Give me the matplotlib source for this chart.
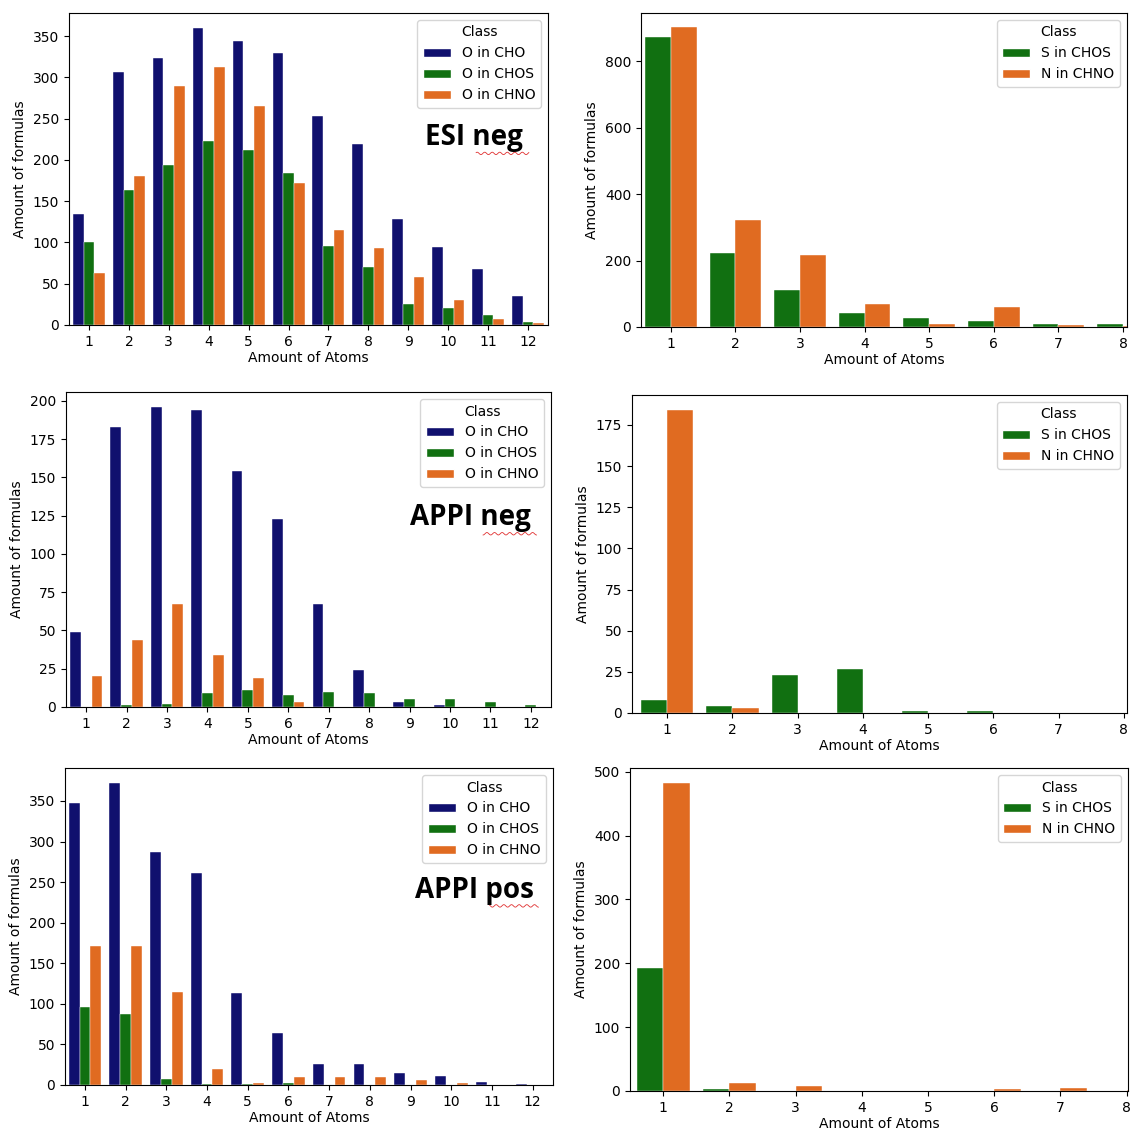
import numpy as np
import matplotlib
matplotlib.use("Agg")
import matplotlib.pyplot as plt
from matplotlib.patches import Patch

# ---------------- data ----------------
atoms_o = ["1", "2", "3", "4", "5", "6", "7", "8", "9", "10", "11", "12"]
atoms_sn = ["1", "2", "3", "4", "5", "6", "7", "8"]

esi_o_cho = [135, 307, 324, 360, 344, 329, 253, 219, 128, 95, 68, 35]
esi_o_chos = [101, 163, 194, 223, 212, 184, 96, 70, 25, 21, 12, 4]
esi_o_chno = [63, 180, 290, 312, 265, 172, 115, 93, 58, 30, 7, 3]
esi_s_chos = [872, 222, 112, 42, 27, 17, 10, 8]
esi_n_chno = [904, 322, 217, 68, 8, 60, 5, 3]

appineg_o_cho = [49, 183, 196, 194, 154, 123, 67, 24, 3, 1, 0, 0]
appineg_o_chos = [0, 1, 2, 9, 11, 8, 10, 9, 5, 5, 3, 1]
appineg_o_chno = [20, 44, 67, 34, 19, 3, 0, 0, 0, 0, 0, 0]
appineg_s_chos = [8, 4, 23, 27, 1, 1, 0, 0]
appineg_n_chno = [184, 3, 0, 0, 0, 0, 0, 0]

appipos_o_cho = [348, 372, 287, 261, 113, 64, 26, 26, 15, 11, 4, 1]
appipos_o_chos = [96, 87, 8, 1, 1, 3, 0, 0, 0, 0, 0, 0]
appipos_o_chno = [171, 171, 114, 20, 3, 10, 10, 10, 6, 3, 0, 0]
appipos_s_chos = [192, 3, 0, 0, 0, 0, 0, 0]
appipos_n_chno = [482, 12, 8, 0, 0, 3, 5, 2]

labels_o = ["O in CHO", "O in CHOS", "O in CHNO"]
labels_sn = ["S in CHOS", "N in CHNO"]
panel_titles = ["ESI neg", "APPI neg", "APPI pos"]

NAVY = "#10106e"
GREEN = "#117011"
ORANGE = "#e06b21"

W, H = 1133, 1135
fig = plt.figure(figsize=(W / 100, H / 100), dpi=100)
plt.rcParams["font.family"] = ["DejaVu Sans"]


def add_ax(left, right, top, bottom):
    return fig.add_axes([left / W, 1 - bottom / H, (right - left) / W, (bottom - top) / H])


def grouped(ax, cats, series, colors, labels, xlim, ymax, yticks, legend_fs=10):
    n = len(series)
    w = 0.8 / n
    x = np.arange(len(cats))
    for i, (vals, c, lab) in enumerate(zip(series, colors, labels)):
        ax.bar(x - 0.4 + w * (i + 0.5), vals, width=w, color=c, label=lab,
               edgecolor="white", linewidth=0.3)
    ax.set_xticks(x)
    ax.set_xticklabels(cats, fontsize=10)
    ax.set_xlim(*xlim)
    ax.set_ylim(0, ymax)
    ax.set_yticks(yticks)
    ax.tick_params(axis="y", labelsize=10)
    ax.set_xlabel("Amount of Atoms", fontsize=10, labelpad=2)
    ax.set_ylabel("Amount of formulas", fontsize=10)
    handles = [Patch(facecolor=c, edgecolor="white", label=l) for c, l in zip(colors, labels)]
    ax.legend(handles=handles, title="Class", loc="upper right", fontsize=legend_fs,
              title_fontsize=10, frameon=True)


def label(ax, text, xf, yf, ul_start, ul_end):
    ax.text(xf, yf, text, transform=ax.transAxes, fontsize=20, fontweight="bold",
            ha="center", va="center", family=["Open Sans", "DejaVu Sans"])
    # spell-check style squiggle under the last word
    t = np.linspace(ul_start, ul_end, 60)
    ax.plot(t, yf - 0.05 + 0.004 * np.sin(t * 400), color="#e03030", lw=0.6,
            transform=ax.transAxes, clip_on=False)


# Top-left: ESI neg
ax1 = add_ax(69, 548, 13, 325)
grouped(ax1, atoms_o, [esi_o_cho, esi_o_chos, esi_o_chno], [NAVY, GREEN, ORANGE], labels_o,
        (-0.5, 11.5), 378, np.arange(0, 351, 50))
label(ax1, panel_titles[0], 0.846, 0.60, 0.85, 0.96)

# Top-right
ax2 = add_ax(641, 1127, 13, 327)
grouped(ax2, atoms_sn, [esi_s_chos, esi_n_chno], [GREEN, ORANGE], labels_sn,
        (-0.46, 7.06), 945, np.arange(0, 801, 200))

# Middle-left: APPI neg
ax3 = add_ax(66, 551, 392, 707)
grouped(ax3, atoms_o, [appineg_o_cho, appineg_o_chos, appineg_o_chno], [NAVY, GREEN, ORANGE],
        labels_o, (-0.5, 11.5), 205.8, np.arange(0, 201, 25))
label(ax3, panel_titles[1], 0.834, 0.60, 0.86, 0.97)

# Middle-right
ax4 = add_ax(632, 1127, 395, 713)
grouped(ax4, atoms_sn, [appineg_s_chos, appineg_n_chno], [GREEN, ORANGE], labels_sn,
        (-0.54, 7.05), 193.2, np.arange(0, 176, 25))

# Bottom-left: APPI pos
ax5 = add_ax(65, 553, 768, 1085)
grouped(ax5, atoms_o, [appipos_o_cho, appipos_o_chos, appipos_o_chno], [NAVY, GREEN, ORANGE],
        labels_o, (-0.49, 11.5), 390.6, np.arange(0, 351, 50))
label(ax5, panel_titles[2], 0.84, 0.615, 0.87, 0.97)

# Bottom-right
ax6 = add_ax(630, 1128, 768, 1091)
grouped(ax6, atoms_sn, [appipos_s_chos, appipos_n_chno], [GREEN, ORANGE], labels_sn,
        (-0.5, 7.02), 506, np.arange(0, 501, 100))

fig.savefig("out.png", dpi=100)
